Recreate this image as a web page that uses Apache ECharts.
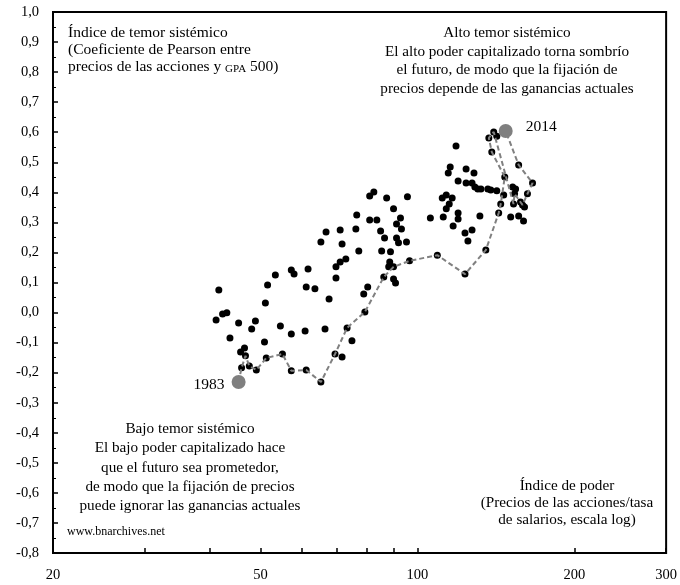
<!DOCTYPE html>
<html>
<head>
<meta charset="utf-8">
<script src="https://cdn.jsdelivr.net/npm/echarts@6/dist/echarts.min.js"></script>
<style>
html,body{margin:0;padding:0;background:#fff;}
#chart{width:680px;height:585px;}
</style>
</head>
<body>
<div id="chart"></div>
<script>
// Power index (stock prices / wage rate, log scale) for each observation
const scatterX = [41.6,42.3,43.1,41.1,43.7,45.4,48.9,48.1,46.6,45.8,
46.8,46.0,47.6,49.1,50.9,51.3,55.1,51.1,51.6,53.4,
57.3,58.0,61.7,54.6,57.3,60.9,66.5,61.2,63.6,57.3,
61.2,65.3,67.7,69.5,71.7,73.3,74.9,79.3,69.8,71.1,
69.8,72.9,78.9,80.3,77.2,85.4,88.8,86.2,90.0,90.8,
88.5,88.1,90.0,96.6,65.3,71.7,86.5,91.2,92.0,95.3,
66.8,71.1,76.2,85.0,93.2,91.2,76.5,81.0,83.6,92.8,
81.0,82.5,87.3,95.7,90.0,105.9,112.1,111.6,113.6,116.6,
115.1,113.6,119.7,119.7,131.8,117.1,127.3,123.4,125.0,109.2,
123.4,135.3,118.6,115.6,114.6,124.0,128.4,119.7,124.0,127.3,
128.9,130.6,132.4,136.5,138.3,142.0,137.1,140.1,142.0,138.9,
156.4,147.1,166.3,146.4,152.3,154.3,153.6,162.6,144.5,152.9,
157.7,159.1,160.5,143.2,151.0,156.4,159.8];
// Systemic fear index (Pearson coefficient) for each observation
const scatterY = [0.075,-0.005,-0.001,-0.025,-0.085,-0.035,-0.028,-0.055,-0.118,-0.131,
-0.144,-0.184,-0.178,-0.191,-0.098,-0.151,-0.138,0.032,0.092,0.125,
0.142,0.128,0.145,-0.045,-0.071,-0.061,-0.055,0.085,0.079,-0.194,
-0.191,-0.231,0.045,-0.138,-0.148,-0.051,-0.094,0.002,0.115,0.168,
0.152,0.178,0.062,0.085,0.205,0.205,0.202,0.118,0.112,0.098,
0.168,0.152,0.152,0.172,0.235,0.228,0.248,0.248,0.232,0.235,
0.268,0.275,0.278,0.271,0.278,0.295,0.325,0.308,0.308,0.315,
0.388,0.401,0.381,0.385,0.345,0.315,0.318,0.381,0.391,0.381,
0.361,0.345,0.331,0.311,0.321,0.288,0.275,0.265,0.238,0.191,
0.128,0.208,0.554,0.484,0.464,0.478,0.464,0.438,0.431,0.431,
0.418,0.411,0.411,0.411,0.408,0.405,0.581,0.601,0.587,0.534,
0.491,0.451,0.431,0.391,0.418,0.411,0.395,0.395,0.361,0.361,
0.368,0.358,0.351,0.331,0.318,0.321,0.305];
// Annual path 1983 -> 2014 (dashed line)
const pathX = [45.4,46.0,46.8,47.6,49.1,51.3,55.1,57.3,61.2,65.3,69.5,73.3,79.3,86.2,90.0,96.6,
109.2,123.4,135.3,143.2,144.5,147.1,138.9,137.1,140.1,152.9,153.6,159.1,162.6,166.3,156.4,147.7];
const pathY = [-0.231,-0.184,-0.144,-0.178,-0.191,-0.151,-0.138,-0.194,-0.191,-0.231,-0.138,-0.051,0.002,0.118,0.152,0.172,
0.191,0.128,0.208,0.331,0.361,0.451,0.534,0.581,0.601,0.361,0.395,0.358,0.395,0.431,0.491,0.604];
const endLabels = ['1983', '2014'];
const xTickValues = [20,30,40,50,60,70,80,90,100,200,300];
const xLabelValues = [20,50,100,200,300];
const yMin = -0.8, yMax = 1.0, yStep = 0.1;

const SERIF = '"Liberation Serif", "DejaVu Serif", serif';
const lg = v => Math.log10(v);

const scatterData = scatterX.map((x, i) => [lg(x), scatterY[i]]);
const pathData = pathX.map((x, i) => [lg(x), pathY[i]]);
const last = pathX.length - 1;
const endData = [
  { value: [lg(pathX[0]), pathY[0]], label: { formatter: endLabels[0], position: 'left', distance: 7, offset: [0, 3] } },
  { value: [lg(pathX[last]), pathY[last]], label: { formatter: endLabels[1], position: 'right', distance: 13, offset: [0, -4] } }
];

const chart = echarts.init(document.getElementById('chart'), null, { renderer: 'canvas' });
chart.setOption({
  animation: false,
  backgroundColor: '#fff',
  grid: { left: 53, right: 9, top: 12, bottom: 32, show: true, borderColor: '#000', borderWidth: 2, backgroundColor: 'transparent' },
  xAxis: {
    type: 'value', min: lg(20), max: lg(300),
    axisLine: { show: true, onZero: false, lineStyle: { color: '#000', width: 2 } },
    axisTick: { show: true, inside: true, length: 5, lineStyle: { color: '#000', width: 1.5 }, customValues: xTickValues.map(lg) },
    axisLabel: { customValues: xLabelValues.map(lg), formatter: v => String(Math.round(Math.pow(10, v))), color: '#000', fontFamily: SERIF, fontSize: 14.5, margin: 15 },
    splitLine: { show: false }
  },
  yAxis: {
    type: 'value', min: yMin, max: yMax, interval: yStep,
    axisLine: { show: true, onZero: false, lineStyle: { color: '#000', width: 2 } },
    axisTick: { show: true, inside: true, length: 5, lineStyle: { color: '#000', width: 1.5 } },
    minorTick: { show: true, splitNumber: 2, length: 3, lineStyle: { color: '#000', width: 1 } },
    axisLabel: { formatter: v => v.toFixed(1).replace('.', ','), color: '#000', fontFamily: SERIF, fontSize: 14.5, margin: 14 },
    splitLine: { show: false }
  },
  series: [
    { type: 'scatter', data: scatterData, symbolSize: 7, itemStyle: { color: '#000', opacity: 1 }, z: 2 },
    { type: 'line', data: pathData, symbol: 'none', lineStyle: { color: '#808080', width: 2, type: [5, 3] }, z: 3 },
    { type: 'scatter', data: endData, symbolSize: 14, itemStyle: { color: '#7f7f7f', opacity: 1 }, z: 4,
      label: { show: true, color: '#000', fontFamily: SERIF, fontSize: 15.5 } }
  ],
  graphic: [
    { type: 'text', left: 68, top: 24, z: 10, style: {
      text: 'Índice de temor sistémico\n(Coeficiente de Pearson entre\nprecios de las acciones y {sc|GPA} 500)',
      fill: '#000', fontFamily: SERIF, fontSize: 15.5, lineHeight: 17,
      rich: { sc: { fontFamily: SERIF, fontSize: 11, lineHeight: 13, verticalAlign: 'bottom', fill: '#000' } } } },
    { type: 'text', x: 507, y: 24, z: 10, style: {
      text: 'Alto temor sistémico\nEl alto poder capitalizado torna sombrío\nel futuro, de modo que la fijación de\nprecios depende de las ganancias actuales',
      fill: '#000', fontFamily: SERIF, fontSize: 15.2, lineHeight: 18.5, align: 'center', verticalAlign: 'top' } },
    { type: 'text', x: 190, y: 419.5, z: 10, style: {
      text: 'Bajo temor sistémico\nEl bajo poder capitalizado hace\nque el futuro sea prometedor,\nde modo que la fijación de precios\npuede ignorar las ganancias actuales',
      fill: '#000', fontFamily: SERIF, fontSize: 15.2, lineHeight: 19.25, align: 'center', verticalAlign: 'top' } },
    { type: 'text', x: 567, y: 477.5, z: 10, style: {
      text: 'Índice de poder\n(Precios de las acciones/tasa\nde salarios, escala log)',
      fill: '#000', fontFamily: SERIF, fontSize: 15.2, lineHeight: 17, align: 'center', verticalAlign: 'top' } },
    { type: 'text', x: 67, y: 532, z: 10, style: {
      text: 'www.bnarchives.net', fill: '#000', fontFamily: SERIF, fontSize: 12, verticalAlign: 'middle' } }
  ]
});
</script>
</body>
</html>
